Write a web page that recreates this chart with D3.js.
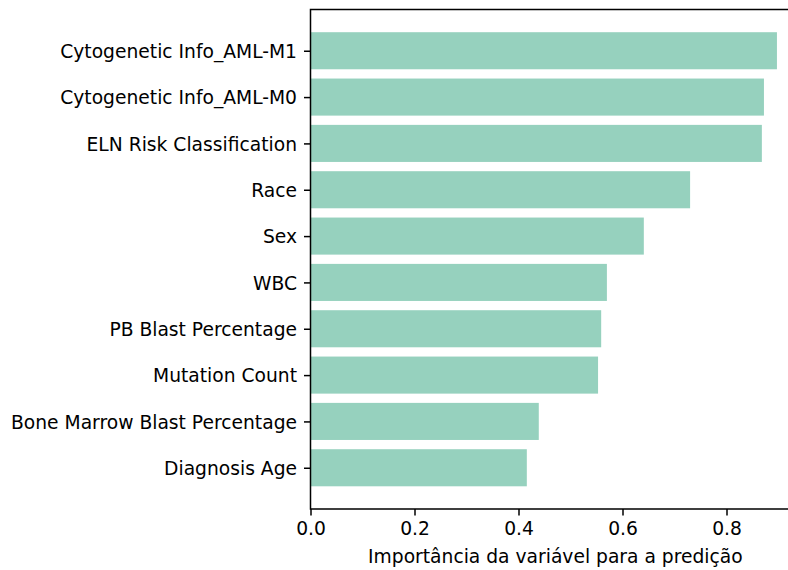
<!DOCTYPE html>
<html>
<head>
<meta charset="utf-8">
<script src="https://cdn.jsdelivr.net/npm/d3@7"></script>
<style>
  html, body { margin: 0; padding: 0; background: #fff; }
  svg { display: block; font-family: "DejaVu Sans", sans-serif; }
</style>
</head>
<body>
<svg id="chart" width="788" height="570"></svg>
<script>
// Features, ordered bottom to top
const features = [
  "Diagnosis Age",
  "Bone Marrow Blast Percentage",
  "Mutation Count",
  "PB Blast Percentage",
  "WBC",
  "Sex",
  "Race",
  "ELN Risk Classification",
  "Cytogenetic Info_AML-M0",
  "Cytogenetic Info_AML-M1"
];
const importance = [0.416, 0.439, 0.553, 0.559, 0.570, 0.641, 0.730, 0.868, 0.872, 0.897];
const xTicks = [0.0, 0.2, 0.4, 0.6, 0.8];
const xLabel = "Importância da variável para a predição";

const fontSize = 18.7;
const lineW = 1.5;
const tickLen = 6.5;

const svg = d3.select("#chart");
const plotLeft = 310.5, plotTop = 9.5, plotBottom = 509;
const xMax = d3.max(importance) * 1.05;
const x = d3.scaleLinear().domain([0, xMax]).range([plotLeft, plotLeft + 520 * xMax]);
const y = d3.scaleLinear().domain([-0.89, features.length - 1 + 0.89]).range([plotBottom, plotTop]);
const barH = y(0) - y(0.8);

// bars
svg.append("g").selectAll("rect")
  .data(importance)
  .join("rect")
  .attr("x", x(0))
  .attr("y", (d, i) => y(i + 0.4))
  .attr("width", d => x(d) - x(0))
  .attr("height", barH)
  .attr("fill", "#96d1be");

// x axis
const xAxis = d3.axisBottom(x)
  .tickValues(xTicks)
  .tickFormat(d3.format(".1f"))
  .tickSize(tickLen)
  .tickPadding(6);
const gx = svg.append("g")
  .attr("transform", `translate(0,${plotBottom})`)
  .call(xAxis)
  .attr("font-size", fontSize)
  .attr("font-family", "DejaVu Sans");
gx.select(".domain").remove();
gx.selectAll("line").attr("stroke", "#000").attr("stroke-width", lineW);
gx.selectAll("text").attr("fill", "#000");

// y axis
const yAxis = d3.axisLeft(y)
  .tickValues(d3.range(features.length))
  .tickFormat(i => features[i])
  .tickSize(tickLen)
  .tickPadding(7);
const gy = svg.append("g")
  .attr("transform", `translate(${plotLeft},0)`)
  .call(yAxis)
  .attr("font-size", fontSize)
  .attr("font-family", "DejaVu Sans");
gy.select(".domain").remove();
gy.selectAll("line").attr("stroke", "#000").attr("stroke-width", lineW);
gy.selectAll("text").attr("fill", "#000").attr("dy", "0.36em");

// spines
const plotRight = x(xMax);
svg.append("path")
  .attr("d", `M${plotLeft},${plotTop}H${plotRight}V${plotBottom}H${plotLeft}Z`)
  .attr("fill", "none")
  .attr("stroke", "#000")
  .attr("stroke-width", lineW);

// axis label
svg.append("text")
  .attr("x", x(xMax / 2))
  .attr("y", 563)
  .attr("text-anchor", "middle")
  .attr("font-size", fontSize)
  .attr("font-family", "DejaVu Sans")
  .attr("fill", "#000")
  .text(xLabel);
</script>
</body>
</html>
